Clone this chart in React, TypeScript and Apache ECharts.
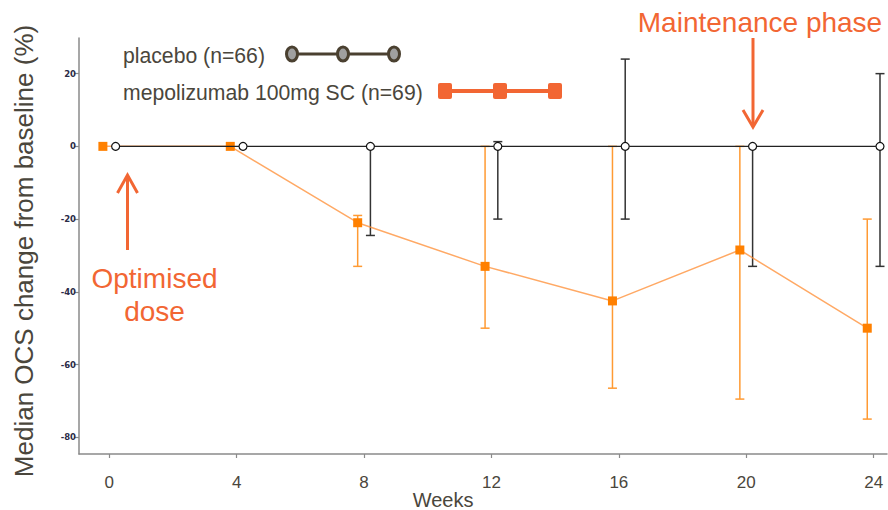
import React, { useEffect, useRef } from "react";
import * as echarts from "echarts";

const weeks = [0, 4, 8, 12, 16, 20, 24];
const xTicks = [0, 4, 8, 12, 16, 20, 24];
const yTicks = [-80, -60, -40, -20, 0, 20];

const placeboName = "placebo (n=66)";
const placeboMedian = [0, 0, 0, 0, 0, 0, 0];
const placeboLower = [null, null, -24.5, -20, -20, -33, -33];
const placeboUpper = [null, null, 0, 1.3, 24, 0, 20];

const mepoName = "mepolizumab 100mg SC (n=69)";
const mepoMedian = [0, 0, -21, -33, -42.5, -28.5, -50];
const mepoLower = [null, null, -33, -50, -66.5, -69.5, -75];
const mepoUpper = [null, null, -19, 0, 0, 0, -20];

const PLACEBO_OFFSET = 0.2;
const MEPO_OFFSET = -0.2;

const FONT = "'Liberation Sans', Arial, sans-serif";
const TEXT = "#4a463c";
const ANNOT = "#F26633";

function errData(lower: (number | null)[], upper: (number | null)[], off: number) {
  const out: number[][] = [];
  weeks.forEach((w, i) => {
    const lo = lower[i];
    const hi = upper[i];
    if (lo !== null && hi !== null) out.push([w + off, lo, hi]);
  });
  return out;
}

function errSeries(name: string, data: number[][], color: string) {
  return {
    type: "custom",
    name,
    z: 1,
    data,
    encode: { x: 0, y: [1, 2] },
    renderItem: (params: any, api: any) => {
      const x = api.value(0);
      const lo = api.coord([x, api.value(1)]);
      const hi = api.coord([x, api.value(2)]);
      const cw = 4.5;
      const st = { stroke: color, lineWidth: 1.5 };
      return {
        type: "group",
        children: [
          { type: "line", shape: { x1: lo[0], y1: lo[1], x2: hi[0], y2: hi[1] }, style: st },
          { type: "line", shape: { x1: lo[0] - cw, y1: lo[1], x2: lo[0] + cw, y2: lo[1] }, style: st },
          { type: "line", shape: { x1: hi[0] - cw, y1: hi[1], x2: hi[0] + cw, y2: hi[1] }, style: st },
        ],
      };
    },
  };
}

export default function App() {
  const ref = useRef<HTMLDivElement>(null);
  useEffect(() => {
    if (!ref.current) return;
    const chart = echarts.init(ref.current, undefined, { renderer: "svg" });
    const option: any = {
      animation: false,
      backgroundColor: "#ffffff",
      grid: { left: 79, right: 1, top: 38, bottom: 56 },
      xAxis: {
        type: "value",
        min: -0.95,
        max: 24.42,
        splitLine: { show: false },
        axisLine: { show: true, onZero: false, lineStyle: { color: "#8a8a8a", width: 1.5 } },
        axisTick: { show: true, length: 4, customValues: xTicks, lineStyle: { color: "#8a8a8a", width: 1.2 } },
        axisLabel: { customValues: xTicks, fontSize: 17, color: TEXT, fontFamily: FONT, margin: 20 },
      },
      yAxis: {
        type: "value",
        min: -84.6,
        max: 29.8,
        splitLine: { show: false },
        axisLine: { show: true, onZero: false, lineStyle: { color: "#8a8a8a", width: 1.5 } },
        axisTick: { show: true, length: 5, customValues: yTicks, lineStyle: { color: "#8a8a8a", width: 1.2 } },
        axisLabel: {
          customValues: yTicks,
          fontSize: 8.5,
          fontWeight: "bold",
          color: "#2b2b48",
          fontFamily: "'DejaVu Sans', sans-serif",
          margin: 3,
        },
      },
      series: [
        errSeries("placebo err", errData(placeboLower, placeboUpper, PLACEBO_OFFSET), "#333333"),
        errSeries("mepo err", errData(mepoLower, mepoUpper, MEPO_OFFSET), "#FF9A33"),
        {
          type: "line",
          name: mepoName,
          z: 3,
          data: weeks.map((w, i) => [w + MEPO_OFFSET, mepoMedian[i]]),
          symbol: "rect",
          symbolSize: 9,
          itemStyle: { color: "#FF8000" },
          lineStyle: { color: "rgba(255,140,50,0.75)", width: 1.5 },
        },
        {
          type: "line",
          name: placeboName,
          z: 4,
          data: weeks.map((w, i) => [w + PLACEBO_OFFSET, placeboMedian[i]]),
          symbol: "circle",
          symbolSize: 8,
          showAllSymbol: true,
          itemStyle: { color: "#ffffff", borderColor: "#111111", borderWidth: 1.2 },
          lineStyle: { color: "#222222", width: 1.2 },
        },
      ],
      graphic: [
        // y-axis title
        {
          type: "text",
          x: 24,
          y: 251,
          rotation: Math.PI / 2,
          style: {
            text: "Median OCS change from baseline (%)",
            fontSize: 26,
            fontFamily: FONT,
            fill: TEXT,
            textAlign: "center",
            textVerticalAlign: "middle",
          },
        },
        {
          type: "text",
          x: 443,
          y: 500,
          style: { text: "Weeks", fontSize: 20, fontFamily: FONT, fill: TEXT, textAlign: "center", textVerticalAlign: "middle" },
        },
        // legend placebo
        {
          type: "text",
          x: 123,
          y: 55,
          style: { text: placeboName, fontSize: 21.2, fontFamily: FONT, fill: TEXT, textAlign: "left", textVerticalAlign: "middle" },
        },
        { type: "line", shape: { x1: 292, y1: 54, x2: 394, y2: 54 }, style: { stroke: "#4a4030", lineWidth: 3 } },
        { type: "ellipse", shape: { cx: 292, cy: 54, rx: 5.5, ry: 7 }, style: { fill: "#a0a0a0", stroke: "#4a4030", lineWidth: 3 } },
        { type: "ellipse", shape: { cx: 343, cy: 54, rx: 5.5, ry: 7 }, style: { fill: "#a0a0a0", stroke: "#4a4030", lineWidth: 3 } },
        { type: "ellipse", shape: { cx: 394, cy: 54, rx: 5.5, ry: 7 }, style: { fill: "#a0a0a0", stroke: "#4a4030", lineWidth: 3 } },
        // legend mepolizumab
        {
          type: "text",
          x: 123,
          y: 92,
          style: { text: mepoName, fontSize: 21.2, fontFamily: FONT, fill: TEXT, textAlign: "left", textVerticalAlign: "middle" },
        },
        { type: "line", shape: { x1: 445, y1: 91, x2: 555, y2: 91 }, style: { stroke: ANNOT, lineWidth: 4 } },
        { type: "rect", shape: { x: 438, y: 83, width: 14, height: 16, r: 2 }, style: { fill: ANNOT } },
        { type: "rect", shape: { x: 493, y: 83, width: 14, height: 16, r: 2 }, style: { fill: ANNOT } },
        { type: "rect", shape: { x: 548, y: 83, width: 14, height: 16, r: 2 }, style: { fill: ANNOT } },
        // maintenance phase annotation
        {
          type: "text",
          x: 760,
          y: 22,
          style: { text: "Maintenance phase", fontSize: 28, fontFamily: FONT, fill: ANNOT, textAlign: "center", textVerticalAlign: "middle" },
        },
        { type: "line", shape: { x1: 753, y1: 38, x2: 753, y2: 126 }, style: { stroke: ANNOT, lineWidth: 3 } },
        { type: "polyline", shape: { points: [[743, 110], [753, 127], [763, 110]] }, style: { stroke: ANNOT, lineWidth: 3, fill: "none" } },
        // optimised dose annotation
        { type: "line", shape: { x1: 127.5, y1: 176, x2: 127.5, y2: 250 }, style: { stroke: ANNOT, lineWidth: 3 } },
        { type: "polyline", shape: { points: [[117.5, 193], [127.5, 175], [137.5, 193]] }, style: { stroke: ANNOT, lineWidth: 3, fill: "none" } },
        {
          type: "text",
          x: 154.5,
          y: 278,
          style: { text: "Optimised", fontSize: 28, fontFamily: FONT, fill: ANNOT, textAlign: "center", textVerticalAlign: "middle" },
        },
        {
          type: "text",
          x: 154.5,
          y: 311,
          style: { text: "dose", fontSize: 28, fontFamily: FONT, fill: ANNOT, textAlign: "center", textVerticalAlign: "middle" },
        },
      ],
    };
    chart.setOption(option);
    return () => chart.dispose();
  }, []);
  return (
    <div
      ref={ref}
      style={{ position: "fixed", left: 0, top: 0, width: 888, height: 510 }}
    />
  );
}
